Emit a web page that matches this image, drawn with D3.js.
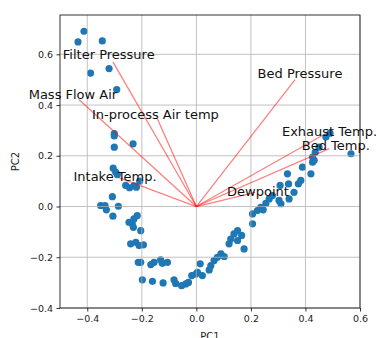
<!DOCTYPE html>
<html>
<head>
<meta charset="utf-8">
<script src="https://cdn.jsdelivr.net/npm/d3@7"></script>
<style>
  body { margin: 0; background: #fff; }
  svg { display: block; font-family: "DejaVu Sans", sans-serif; }
</style>
</head>
<body>
<svg id="chart"></svg>
<script>
// PCA scores (PC1, PC2)
const pc1 = [-0.434, -0.412, -0.345, -0.388, -0.320, -0.292, -0.301, -0.301, -0.301, -0.232,
  -0.305, -0.296, -0.290, -0.259, -0.245, -0.229, -0.220, -0.208, -0.308, -0.351,
  -0.335, -0.330, -0.286, -0.306, -0.247, -0.229, -0.217, -0.235, -0.231, -0.204,
  -0.241, -0.222, -0.210, -0.194, -0.213, -0.204, -0.167, -0.155, -0.131, -0.125,
  -0.106, -0.198, -0.161, -0.122, -0.082, -0.076, -0.054, -0.039, -0.029, -0.017,
  -0.002, 0.014, 0.022, 0.047, 0.053, 0.065, 0.077, 0.090, 0.102, 0.120,
  0.126, 0.138, 0.151, 0.166, 0.151, 0.175, 0.206, 0.206, 0.224, 0.236,
  0.245, 0.255, 0.267, 0.279, 0.307, 0.303, 0.310, 0.334, 0.338, 0.340,
  0.358, 0.374, 0.383, 0.389, 0.420, 0.426, 0.426, 0.436, 0.450, 0.475,
  0.490, 0.567, 0.432, 0.004];
const pc2 = [0.649, 0.691, 0.653, 0.526, 0.544, 0.461, 0.287, 0.278, 0.234, 0.247,
  0.151, 0.136, 0.126, 0.083, 0.074, 0.082, 0.076, 0.100, 0.039, 0.004,
  0.004, -0.013, 0.001, -0.038, -0.062, -0.049, -0.036, -0.068, -0.082, -0.095,
  -0.147, -0.141, -0.154, -0.151, -0.220, -0.220, -0.229, -0.220, -0.210, -0.224,
  -0.220, -0.289, -0.295, -0.301, -0.289, -0.303, -0.312, -0.305, -0.299, -0.272,
  -0.266, -0.226, -0.272, -0.250, -0.233, -0.213, -0.200, -0.187, -0.197, -0.147,
  -0.128, -0.108, -0.095, -0.114, -0.134, -0.167, -0.029, -0.068, -0.016, -0.003,
  -0.013, 0.013, 0.030, 0.043, 0.083, 0.024, 0.011, 0.129, 0.089, 0.030,
  0.056, 0.089, 0.103, 0.155, 0.129, 0.175, 0.195, 0.214, 0.234, 0.274,
  0.289, 0.208, 0.182, -0.259];

// loading vectors
const features = ["Filter Pressure", "Mass Flow Air", "In-process Air temp", "Intake Temp.",
  "Bed Pressure", "Exhaust Temp.", "Bed Temp.", "Dewpoint"];
const loadX = [-0.306, -0.431, -0.143, -0.284, 0.362, 0.465, 0.487, 0.215];
const loadY = [0.570, 0.422, 0.346, 0.114, 0.500, 0.282, 0.228, 0.056];
const labelScale = 1.05;

const xTicks = [-0.4, -0.2, 0.0, 0.2, 0.4, 0.6];
const yTicks = [-0.4, -0.2, 0.0, 0.2, 0.4, 0.6];

const width = 376, height = 338;
const margin = { top: 15, right: 16, bottom: 30, left: 60 };

const svg = d3.select("#chart")
  .attr("width", width)
  .attr("height", height);

const x = d3.scaleLinear()
  .domain([-0.5, 0.6])
  .range([margin.left, width - margin.right]);

const y = d3.scaleLinear()
  .domain([-0.4, 0.755])
  .range([height - margin.bottom, margin.top]);

const fmt = d => d3.format(".1f")(d).replace("-", "\u2212");

// scatter first, grid sits above it like matplotlib
svg.append("g")
  .selectAll("circle")
  .data(pc1.map((d, i) => [d, pc2[i]]))
  .join("circle")
  .attr("cx", d => x(d[0]))
  .attr("cy", d => y(d[1]))
  .attr("r", 3.6)
  .attr("fill", "#1f77b4");

const grid = svg.append("g").attr("stroke", "#b0b0b0").attr("stroke-width", 0.9).attr("opacity", 0.85);
grid.selectAll(".gx").data(xTicks).join("line")
  .attr("x1", d => x(d)).attr("x2", d => x(d))
  .attr("y1", y.range()[0]).attr("y2", y.range()[1]);
grid.selectAll(".gy").data(yTicks).join("line")
  .attr("y1", d => y(d)).attr("y2", d => y(d))
  .attr("x1", x.range()[0]).attr("x2", x.range()[1]);

// loading arrows
svg.append("g")
  .selectAll("line")
  .data(features)
  .join("line")
  .attr("x1", x(0)).attr("y1", y(0))
  .attr("x2", (d, i) => x(loadX[i]))
  .attr("y2", (d, i) => y(loadY[i]))
  .attr("stroke", "red")
  .attr("stroke-opacity", 0.5)
  .attr("stroke-width", 1.3);

svg.append("g")
  .selectAll("text")
  .data(features)
  .join("text")
  .attr("x", (d, i) => x(loadX[i] * labelScale))
  .attr("y", (d, i) => y(loadY[i] * labelScale))
  .attr("text-anchor", "middle")
  .attr("dominant-baseline", "central")
  .attr("font-size", 13)
  .attr("fill", "#111")
  .text(d => d);

// axes
const xAxis = d3.axisBottom(x).tickValues(xTicks).tickFormat(fmt).tickSizeOuter(0).tickSize(3.5).tickPadding(3.5);
const yAxis = d3.axisLeft(y).tickValues(yTicks).tickFormat(fmt).tickSizeOuter(0).tickSize(3.5).tickPadding(3.5);

const xAxisG = svg.append("g")
  .attr("transform", `translate(0,${height - margin.bottom})`)
  .call(xAxis);
const yAxisG = svg.append("g")
  .attr("transform", `translate(${margin.left},0)`)
  .call(yAxis);

[xAxisG, yAxisG].forEach(g => {
  g.select(".domain").remove();
  g.selectAll("line").attr("stroke", "#000").attr("stroke-width", 0.8);
  g.selectAll("text").attr("font-size", 9.5).attr("fill", "#222").attr("font-family", "DejaVu Sans");
});

// frame
svg.append("rect")
  .attr("x", x.range()[0]).attr("y", y.range()[1])
  .attr("width", x.range()[1] - x.range()[0])
  .attr("height", y.range()[0] - y.range()[1])
  .attr("fill", "none")
  .attr("stroke", "#000")
  .attr("stroke-width", 0.8);

svg.append("text")
  .attr("x", (x.range()[0] + x.range()[1]) / 2)
  .attr("y", 340)
  .attr("text-anchor", "middle")
  .attr("font-size", 10)
  .attr("fill", "#222")
  .text("PC1");

svg.append("text")
  .attr("transform", `translate(19,${(y.range()[0] + y.range()[1]) / 2}) rotate(-90)`)
  .attr("text-anchor", "middle")
  .attr("font-size", 10)
  .attr("fill", "#222")
  .text("PC2");
</script>
</body>
</html>
